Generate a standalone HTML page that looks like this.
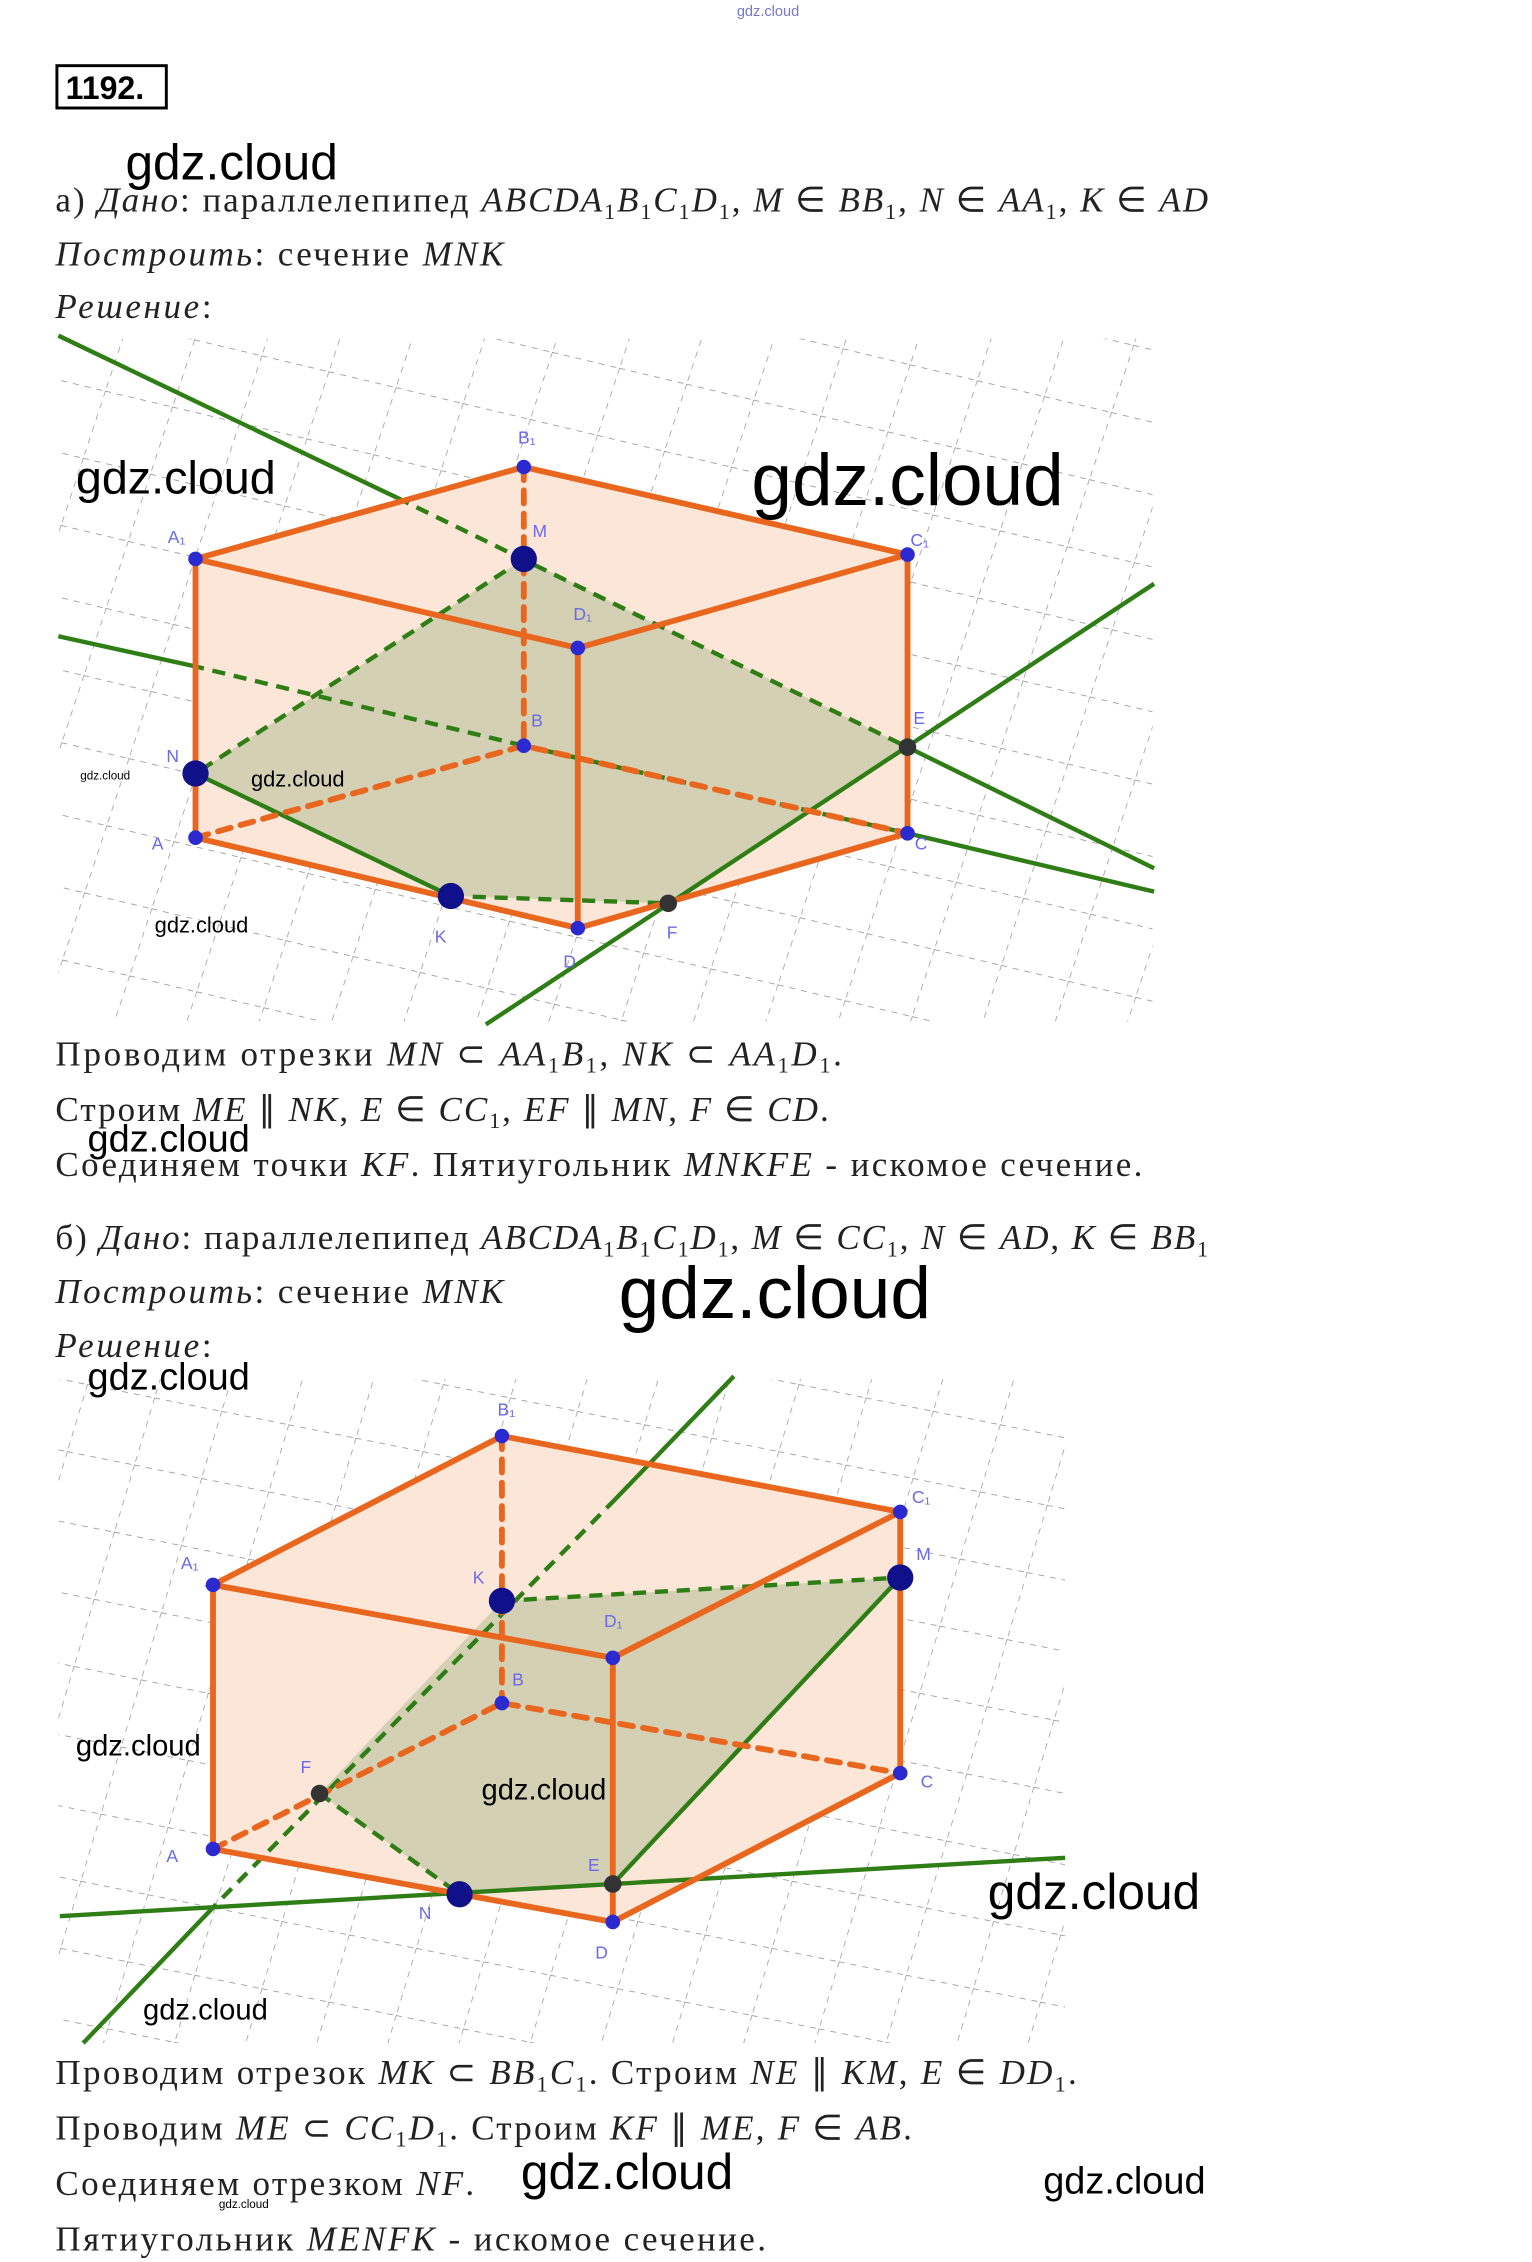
<!DOCTYPE html>
<html><head><meta charset="utf-8"><style>
html,body{margin:0;padding:0;background:#fff;}
svg{display:block;}
.t{font-family:"Liberation Serif",serif;font-size:24px;fill:#222;}
.i{font-style:italic;}
.w{font-family:"Liberation Sans",sans-serif;fill:#000;}
.l{font-family:"Liberation Sans",sans-serif;font-size:12px;fill:#6a6ae8;}
</style></head><body>
<svg width="1532" height="2262" viewBox="0 0 1050 1550" preserveAspectRatio="none" xmlns="http://www.w3.org/2000/svg">
<defs>
<pattern id="ga" width="46" height="46" patternUnits="userSpaceOnUse" patternTransform="matrix(1 0.237 -0.33 1 10 5)">
<path d="M0 0H46M0 0V46" stroke="#8a8a8a" stroke-width="0.9" stroke-dasharray="4 4" fill="none"/>
</pattern>
<pattern id="gb" width="46" height="46" patternUnits="userSpaceOnUse" patternTransform="matrix(1 0.2 -0.3 1 0 10)">
<path d="M0 0H46M0 0V46" stroke="#8a8a8a" stroke-width="0.9" stroke-dasharray="4 4" fill="none"/>
</pattern>
<clipPath id="ca"><rect x="40" y="232" width="750" height="468"/></clipPath>
<clipPath id="cb"><rect x="40" y="945" width="690" height="455"/></clipPath>
</defs>
<rect width="1050" height="1550" fill="#fff"/>
<text x="505" y="11" class="w" font-size="10" style="fill:#7777cc">gdz.cloud</text>
<rect x="39" y="45" width="75" height="29" fill="none" stroke="#000" stroke-width="2"/>
<text x="45" y="68" font-family="Liberation Sans,sans-serif" font-weight="bold" font-size="22">1192.</text>

<text x="38" y="145" class="t" textLength="790" lengthAdjust="spacing">а) <tspan class="i">Дано</tspan>: параллелепипед <tspan class="i">ABCDA</tspan><tspan font-size="15" dy="5">1</tspan><tspan class="i" dy="-5">B</tspan><tspan font-size="15" dy="5">1</tspan><tspan class="i" dy="-5">C</tspan><tspan font-size="15" dy="5">1</tspan><tspan class="i" dy="-5">D</tspan><tspan font-size="15" dy="5">1</tspan><tspan dy="-5">, </tspan><tspan class="i">M</tspan> ∈ <tspan class="i">BB</tspan><tspan font-size="15" dy="5">1</tspan><tspan dy="-5">, </tspan><tspan class="i">N</tspan> ∈ <tspan class="i">AA</tspan><tspan font-size="15" dy="5">1</tspan><tspan dy="-5">, </tspan><tspan class="i">K</tspan> ∈ <tspan class="i">AD</tspan></text>
<text x="38" y="182" class="t" textLength="307" lengthAdjust="spacing"><tspan class="i">Построить</tspan>: сечение <tspan class="i">MNK</tspan></text>
<text x="38" y="218" class="t" textLength="107" lengthAdjust="spacing"><tspan class="i">Решение</tspan>:</text>

<!-- diagram a -->
<rect x="40" y="232" width="750" height="468" fill="url(#ga)" clip-path="url(#ca)"/>
<polygon points="134,383 359,320 622,380 622,571 396,636 134,574" fill="#fce6d8"/>
<polygon points="359,383 134,530 309,614 458,619 622,512" fill="#cfcdb0" opacity="0.9"/>
<g stroke="#2e7d15" stroke-width="3" fill="none">
<polyline points="40,230 272,341"/>
<line x1="272" y1="341" x2="622" y2="512" stroke-dasharray="9 6"/>
<line x1="622" y1="512" x2="791" y2="595"/>
<line x1="40" y1="436" x2="131" y2="456"/>
<line x1="131" y1="456" x2="359" y2="511" stroke-dasharray="9 6"/>
<line x1="359" y1="511" x2="622" y2="571" stroke-dasharray="9 6"/>
<line x1="622" y1="571" x2="791" y2="611"/>
<line x1="333" y1="702" x2="791" y2="400"/>
<line x1="359" y1="383" x2="134" y2="530" stroke-dasharray="9 6"/>
<line x1="309" y1="614" x2="458" y2="619" stroke-dasharray="9 6"/>
<line x1="134" y1="530" x2="309" y2="614"/>
</g>
<g stroke="#e8661e" stroke-width="4" fill="none" stroke-linecap="round">
<polygon points="134,383 359,320 622,380 396,444"/>
<line x1="134" y1="383" x2="134" y2="574"/><line x1="396" y1="444" x2="396" y2="636"/><line x1="622" y1="380" x2="622" y2="571"/>
<polyline points="134,574 396,636 622,571"/>
<g stroke-dasharray="9 7"><line x1="359" y1="320" x2="359" y2="511"/><polyline points="134,574 359,511 622,571"/></g>
</g>
<g fill="#2a2ad0">
<circle cx="359" cy="320" r="5"/><circle cx="134" cy="383" r="5"/><circle cx="622" cy="380" r="5"/><circle cx="396" cy="444" r="5"/>
<circle cx="359" cy="511" r="5"/><circle cx="134" cy="574" r="5"/><circle cx="622" cy="571" r="5"/><circle cx="396" cy="636" r="5"/>
<circle cx="359" cy="383" r="9" fill="#10108a"/><circle cx="134" cy="530" r="9" fill="#10108a"/><circle cx="309" cy="614" r="9" fill="#10108a"/>
<circle cx="458" cy="619" r="6" fill="#333"/><circle cx="622" cy="512" r="6" fill="#333"/>
</g>
<g class="l">
<text x="355" y="304">B₁</text><text x="115" y="372">A₁</text><text x="624" y="374">C₁</text><text x="393" y="425">D₁</text>
<text x="365" y="368">M</text><text x="364" y="498">B</text><text x="114" y="522">N</text><text x="104" y="582">A</text>
<text x="627" y="582">C</text><text x="386" y="663">D</text><text x="298" y="646">K</text><text x="457" y="643">F</text><text x="626" y="496">E</text>
</g>

<text x="38" y="730" class="t" textLength="539" lengthAdjust="spacing">Проводим отрезки <tspan class="i">MN</tspan> ⊂ <tspan class="i">AA</tspan><tspan font-size="15" dy="5">1</tspan><tspan class="i" dy="-5">B</tspan><tspan font-size="15" dy="5">1</tspan><tspan dy="-5">, </tspan><tspan class="i">NK</tspan> ⊂ <tspan class="i">AA</tspan><tspan font-size="15" dy="5">1</tspan><tspan class="i" dy="-5">D</tspan><tspan font-size="15" dy="5">1</tspan><tspan dy="-5">.</tspan></text>
<text x="38" y="768" class="t" textLength="530" lengthAdjust="spacing">Строим <tspan class="i">ME</tspan> ∥ <tspan class="i">NK</tspan>, <tspan class="i">E</tspan> ∈ <tspan class="i">CC</tspan><tspan font-size="15" dy="5">1</tspan><tspan dy="-5">,  </tspan><tspan class="i">EF</tspan> ∥ <tspan class="i">MN</tspan>, <tspan class="i">F</tspan> ∈ <tspan class="i">CD</tspan>.</text>
<text x="38" y="806" class="t" textLength="745" lengthAdjust="spacing">Соединяем точки <tspan class="i">KF</tspan>. Пятиугольник <tspan class="i">MNKFE</tspan> - искомое сечение.</text>
<text x="38" y="856" class="t" textLength="790" lengthAdjust="spacing">б) <tspan class="i">Дано</tspan>: параллелепипед <tspan class="i">ABCDA</tspan><tspan font-size="15" dy="5">1</tspan><tspan class="i" dy="-5">B</tspan><tspan font-size="15" dy="5">1</tspan><tspan class="i" dy="-5">C</tspan><tspan font-size="15" dy="5">1</tspan><tspan class="i" dy="-5">D</tspan><tspan font-size="15" dy="5">1</tspan><tspan dy="-5">, </tspan><tspan class="i">M</tspan> ∈ <tspan class="i">CC</tspan><tspan font-size="15" dy="5">1</tspan><tspan dy="-5">, </tspan><tspan class="i">N</tspan> ∈ <tspan class="i">AD</tspan>, <tspan class="i">K</tspan> ∈ <tspan class="i">BB</tspan><tspan font-size="15" dy="5">1</tspan></text>
<text x="38" y="893" class="t" textLength="307" lengthAdjust="spacing"><tspan class="i">Построить</tspan>: сечение <tspan class="i">MNK</tspan></text>
<text x="38" y="930" class="t" textLength="107" lengthAdjust="spacing"><tspan class="i">Решение</tspan>:</text>

<!-- diagram b -->
<rect x="40" y="945" width="690" height="455" fill="url(#gb)" clip-path="url(#cb)"/>
<polygon points="146,1086 344,984 617,1036 617,1215 420,1317 146,1267" fill="#fce6d8"/>
<polygon points="344,1097 617,1081 420,1291 315,1298 219,1229" fill="#cfcdb0" opacity="0.9"/>
<g stroke="#2e7d15" stroke-width="3" fill="none">
<line x1="503" y1="943" x2="422" y2="1027"/>
<line x1="422" y1="1027" x2="148" y2="1305" stroke-dasharray="9 6"/>
<line x1="148" y1="1305" x2="57" y2="1400"/>
<line x1="41" y1="1313" x2="730" y2="1273"/>
<line x1="617" y1="1081" x2="420" y2="1291"/>
<line x1="344" y1="1097" x2="617" y2="1081" stroke-dasharray="9 6"/>
<line x1="219" y1="1229" x2="315" y2="1298" stroke-dasharray="9 6"/>
</g>
<g stroke="#e8661e" stroke-width="4" fill="none" stroke-linecap="round">
<polygon points="146,1086 344,984 617,1036 420,1136"/>
<line x1="146" y1="1086" x2="146" y2="1267"/><line x1="420" y1="1136" x2="420" y2="1317"/><line x1="617" y1="1036" x2="617" y2="1215"/>
<polyline points="146,1267 420,1317 617,1215"/>
<g stroke-dasharray="9 7"><line x1="344" y1="984" x2="344" y2="1167"/><polyline points="146,1267 344,1167 617,1215"/></g>
</g>
<g fill="#2a2ad0">
<circle cx="344" cy="984" r="5"/><circle cx="146" cy="1086" r="5"/><circle cx="617" cy="1036" r="5"/><circle cx="420" cy="1136" r="5"/>
<circle cx="344" cy="1167" r="5"/><circle cx="146" cy="1267" r="5"/><circle cx="617" cy="1215" r="5"/><circle cx="420" cy="1317" r="5"/>
<circle cx="344" cy="1097" r="9" fill="#10108a"/><circle cx="617" cy="1081" r="9" fill="#10108a"/><circle cx="315" cy="1298" r="9" fill="#10108a"/>
<circle cx="219" cy="1229" r="6" fill="#333"/><circle cx="420" cy="1291" r="6" fill="#333"/>
</g>
<g class="l">
<text x="341" y="970">B₁</text><text x="124" y="1075">A₁</text><text x="625" y="1030">C₁</text><text x="414" y="1115">D₁</text>
<text x="324" y="1085">K</text><text x="628" y="1069">M</text><text x="351" y="1155">B</text><text x="206" y="1215">F</text>
<text x="114" y="1276">A</text><text x="631" y="1225">C</text><text x="403" y="1282">E</text><text x="287" y="1315">N</text><text x="408" y="1342">D</text>
</g>

<text x="38" y="1428" class="t" textLength="700" lengthAdjust="spacing">Проводим отрезок <tspan class="i">MK</tspan> ⊂ <tspan class="i">BB</tspan><tspan font-size="15" dy="5">1</tspan><tspan class="i" dy="-5">C</tspan><tspan font-size="15" dy="5">1</tspan><tspan dy="-5">. Строим </tspan><tspan class="i">NE</tspan> ∥ <tspan class="i">KM</tspan>, <tspan class="i">E</tspan> ∈ <tspan class="i">DD</tspan><tspan font-size="15" dy="5">1</tspan><tspan dy="-5">.</tspan></text>
<text x="38" y="1466" class="t" textLength="587" lengthAdjust="spacing">Проводим <tspan class="i">ME</tspan> ⊂ <tspan class="i">CC</tspan><tspan font-size="15" dy="5">1</tspan><tspan class="i" dy="-5">D</tspan><tspan font-size="15" dy="5">1</tspan><tspan dy="-5">. Строим </tspan><tspan class="i">KF</tspan> ∥ <tspan class="i">ME</tspan>, <tspan class="i">F</tspan> ∈ <tspan class="i">AB</tspan>.</text>
<text x="38" y="1504" class="t" textLength="287" lengthAdjust="spacing">Соединяем отрезком <tspan class="i">NF</tspan>.</text>
<text x="38" y="1542" class="t" textLength="487" lengthAdjust="spacing">Пятиугольник <tspan class="i">MENFK</tspan> - искомое сечение.</text>

<!-- watermarks -->
<g class="w">
<text x="86" y="123" font-size="34">gdz.cloud</text>
<text x="52" y="338" font-size="32">gdz.cloud</text>
<text x="515" y="346" font-size="50">gdz.cloud</text>
<text x="172" y="539" font-size="15">gdz.cloud</text>
<text x="55" y="534" font-size="8">gdz.cloud</text>
<text x="106" y="639" font-size="15">gdz.cloud</text>
<text x="60" y="789" font-size="26">gdz.cloud</text>
<text x="424" y="903" font-size="50">gdz.cloud</text>
<text x="60" y="952" font-size="26">gdz.cloud</text>
<text x="52" y="1203" font-size="20">gdz.cloud</text>
<text x="330" y="1233" font-size="20">gdz.cloud</text>
<text x="677" y="1308" font-size="34">gdz.cloud</text>
<text x="98" y="1384" font-size="20">gdz.cloud</text>
<text x="357" y="1500" font-size="34">gdz.cloud</text>
<text x="715" y="1503" font-size="26">gdz.cloud</text>
<text x="150" y="1513" font-size="8">gdz.cloud</text>
</g>
</svg>
</body></html>
